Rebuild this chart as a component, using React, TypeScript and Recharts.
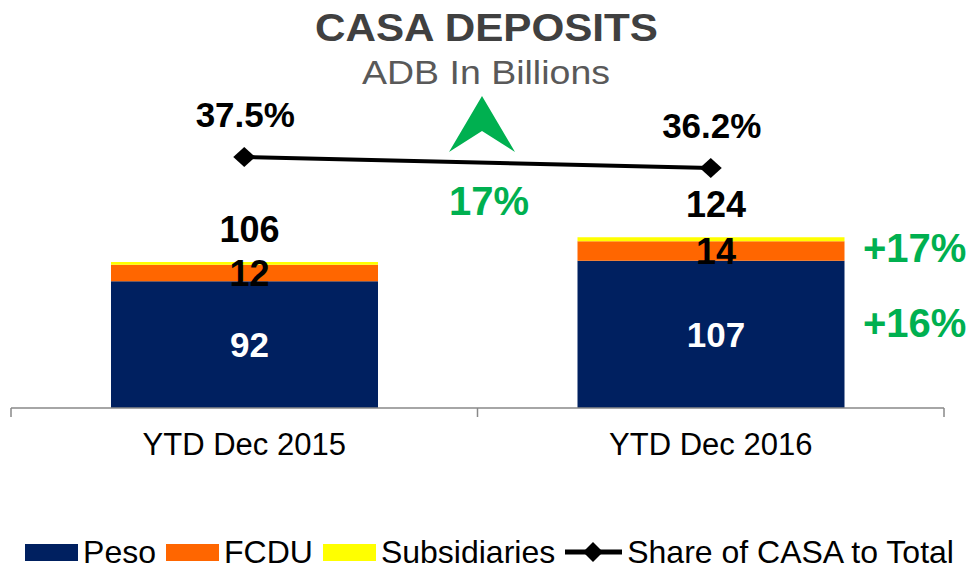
import React from 'react';
import { ComposedChart, Bar, Line, XAxis, YAxis, LabelList } from 'recharts';

const categories = ['YTD Dec 2015', 'YTD Dec 2016'];
const peso = [92, 107];
const fcdu = [12, 14];
const subsidiaries = [2, 3];
const totals = [106, 124];
const casaShare = [37.5, 36.2];

const data = categories.map((name, i) => ({
  name,
  peso: peso[i],
  fcdu: fcdu[i],
  subsidiaries: subsidiaries[i],
  total: totals[i],
  share: casaShare[i],
}));

const FONT = '"Liberation Sans", Arial, sans-serif';
const NAVY = '#002060';
const ORANGE = '#FF6600';
const YELLOW = '#FFFF00';
const GREEN = '#00B050';
const AXIS = '#898989';

const W = 979;
const H = 577;
const M = { top: 105, right: 35, left: 11, bottom: 109 };
const BAND = (W - M.left - M.right) / categories.length;

// value centred in its segment
const inside = (color: string, size: number) => (props: any) => {
  const { x, y, width, height, value } = props;
  return (
    <text
      x={x + width / 2 + 5}
      y={y + height / 2 + size * 0.358}
      textAnchor="middle"
      fill={color}
      fontFamily={FONT}
      fontWeight="bold"
      fontSize={size}
    >
      {value}
    </text>
  );
};

const totalLabel = (props: any) => {
  const { x, y, width, value } = props;
  return (
    <text x={x + width / 2 + 5} y={y - 20} textAnchor="middle" fill="#000" fontFamily={FONT} fontWeight="bold" fontSize={36}>
      {value}
    </text>
  );
};

const shareLabel = (props: any) => {
  const { x, y, value } = props;
  return (
    <text x={x + 1} y={y - 30} textAnchor="middle" fill="#000" fontFamily={FONT} fontWeight="bold" fontSize={35}>
      {value}%
    </text>
  );
};

const Diamond = (props: any) => {
  const { cx, cy } = props;
  if (cx == null || cy == null) return null;
  return <polygon points={`${cx - 11},${cy} ${cx},${cy - 10} ${cx + 11},${cy} ${cx},${cy + 10}`} fill="#000" />;
};

const AxisTick = (props: any) => {
  const { x, y, payload, index } = props;
  const half = BAND / 2;
  return (
    <g>
      <line x1={x - half} x2={x - half} y1={y} y2={y + 9} stroke={AXIS} strokeWidth={1.5} />
      {index === categories.length - 1 && (
        <line x1={x + half} x2={x + half} y1={y} y2={y + 9} stroke={AXIS} strokeWidth={1.5} />
      )}
      <text x={x} y={y + 47} textAnchor="middle" fill="#000" fontFamily={FONT} fontSize={31}>
        {payload.value}
      </text>
    </g>
  );
};

const legendItems = [
  { name: 'Peso', color: NAVY, type: 'rect' },
  { name: 'FCDU', color: ORANGE, type: 'rect' },
  { name: 'Subsidiaries', color: YELLOW, type: 'rect' },
  { name: 'Share of CASA to Total', color: '#000', type: 'line' },
];

const App = () => {
  return (
    <div style={{ position: 'absolute', left: 0, top: 0, width: W, height: H, background: '#fff' }}>
      <ComposedChart width={W} height={H} data={data} margin={M}>
        <XAxis
          dataKey="name"
          xAxisId={0}
          height={60}
          tickSize={0}
          tickMargin={0}
          tickLine={false}
          axisLine={{ stroke: AXIS, strokeWidth: 1.5 }}
          tick={<AxisTick />}
          interval={0}
        />
        <YAxis yAxisId="left" hide domain={[0, 220]} allowDataOverflow />
        <YAxis yAxisId="right" orientation="right" hide domain={[7.84, 43.65]} allowDataOverflow />
        <Bar dataKey="peso" stackId="a" yAxisId="left" fill={NAVY} barSize={267} isAnimationActive={false}>
          <LabelList dataKey="peso" content={inside('#fff', 35)} />
        </Bar>
        <Bar dataKey="fcdu" stackId="a" yAxisId="left" fill={ORANGE} barSize={267} isAnimationActive={false}>
          <LabelList dataKey="fcdu" content={inside('#000', 36)} />
        </Bar>
        <Bar dataKey="subsidiaries" stackId="a" yAxisId="left" fill={YELLOW} barSize={267} isAnimationActive={false}>
          <LabelList dataKey="total" content={totalLabel} />
        </Bar>
        <Line
          dataKey="share"
          yAxisId="right"
          stroke="#000"
          strokeWidth={4}
          dot={<Diamond />}
          activeDot={false}
          isAnimationActive={false}
        >
          <LabelList dataKey="share" content={shareLabel} />
        </Line>
      </ComposedChart>

      <svg width={W} height={H} style={{ position: 'absolute', left: 0, top: 0, pointerEvents: 'none' }}>
        <text x={486.5} y={41} textAnchor="middle" fill="#404040" fontFamily={FONT} fontWeight="bold" fontSize={39} textLength={343} lengthAdjust="spacingAndGlyphs">
          CASA DEPOSITS
        </text>
        <text x={486} y={84} textAnchor="middle" fill="#595959" fontFamily={FONT} fontSize={33} textLength={248} lengthAdjust="spacingAndGlyphs">
          ADB In Billions
        </text>
        <polygon points="482,96 515,152 482,131 449,152" fill={GREEN} />
        <text x={489} y={215} textAnchor="middle" fill={GREEN} fontFamily={FONT} fontWeight="bold" fontSize={40}>
          17%
        </text>
        <text x={863} y={262} fill={GREEN} fontFamily={FONT} fontWeight="bold" fontSize={40}>
          +17%
        </text>
        <text x={863} y={337} fill={GREEN} fontFamily={FONT} fontWeight="bold" fontSize={40}>
          +16%
        </text>
      </svg>

      <div
        style={{
          position: 'absolute',
          left: 0,
          top: 536,
          width: W,
          display: 'flex',
          justifyContent: 'center',
          alignItems: 'center',
          fontFamily: FONT,
          fontSize: 32,
          lineHeight: '32px',
          color: '#000',
        }}
      >
        {legendItems.map((item, i) => (
          <div
            key={item.name}
            style={{ display: 'flex', alignItems: 'center', marginRight: i === legendItems.length - 1 ? 0 : 10 }}
          >
            {item.type === 'rect' ? (
              <span style={{ display: 'inline-block', width: 53, height: 17, background: item.color, marginRight: 5 }} />
            ) : (
              <svg width={57} height={22} style={{ marginRight: 5 }}>
                <line x1={0} x2={57} y1={11} y2={11} stroke="#000" strokeWidth={5} />
                <polygon points="18,11 28,1 38,11 28,21" fill="#000" />
              </svg>
            )}
            <span>{item.name}</span>
          </div>
        ))}
      </div>
    </div>
  );
};

export default App;
